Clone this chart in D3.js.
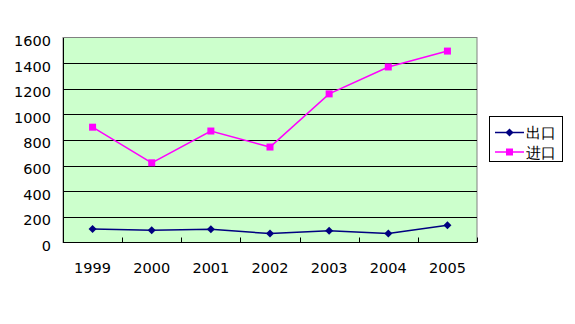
<!DOCTYPE html>
<html>
<head>
<meta charset="utf-8">
<script src="https://cdn.jsdelivr.net/npm/d3@7"></script>
<style>
  html, body { margin: 0; padding: 0; background: #fff; }
  svg { display: block; }
  text { font-family: "DejaVu Sans", Verdana, sans-serif; }
</style>
</head>
<body>
<svg id="chart" width="575" height="324"></svg>
<script>
// Trade figures by year
const years = ["1999", "2000", "2001", "2002", "2003", "2004", "2005"];
const exportsVals = [105, 95, 103, 70, 92, 70, 134];
const importsVals = [900, 622, 870, 745, 1160, 1370, 1494];
const yTicks = [0, 200, 400, 600, 800, 1000, 1200, 1400, 1600];
const seriesNames = ["出口", "进口"];

const svg = d3.select("#chart");
const plot = { left: 63, right: 477, top: 37.5, bottom: 242.5 };

const x = d3.scaleBand().domain(years).range([plot.left, plot.right]);
const y = d3.scaleLinear().domain([0, 1600]).range([plot.bottom, plot.top]);

// plot area background
svg.append("rect")
  .attr("x", plot.left).attr("y", plot.top)
  .attr("width", plot.right - plot.left).attr("height", plot.bottom - plot.top)
  .attr("fill", "#CCFFCC").attr("stroke", "#808080").attr("stroke-width", 1);

// horizontal gridlines
svg.append("g").selectAll("line")
  .data(yTicks.filter(d => d > 0 && d < 1600))
  .join("line")
  .attr("x1", plot.left).attr("x2", plot.right)
  .attr("y1", d => Math.round(y(d)) + 0.5).attr("y2", d => Math.round(y(d)) + 0.5)
  .attr("stroke", "#000").attr("stroke-width", 1);

// y axis labels
const yAxis = d3.axisLeft(y).tickValues(yTicks).tickFormat(d3.format("d"))
  .tickSize(0).tickPadding(12);
const gy = svg.append("g").attr("transform", `translate(${plot.left},0)`).call(yAxis);
gy.select(".domain").attr("stroke", "#000");
gy.selectAll("text").attr("font-size", 14.5).attr("fill", "#000").attr("dy", "0.55em")
  .attr("font-family", "'DejaVu Sans', Verdana, sans-serif");

// x axis with tick marks at category boundaries
svg.append("line")
  .attr("x1", plot.left).attr("x2", plot.right)
  .attr("y1", plot.bottom).attr("y2", plot.bottom)
  .attr("stroke", "#000");
const bounds = years.map(d => x(d)).concat([plot.right]);
svg.append("g").selectAll("line")
  .data(bounds)
  .join("line")
  .attr("x1", d => Math.round(d) + 0.5).attr("x2", d => Math.round(d) + 0.5)
  .attr("y1", plot.bottom - 5).attr("y2", plot.bottom)
  .attr("stroke", "#000");

const xAxis = d3.axisBottom(x).tickSize(0).tickPadding(20);
const gx = svg.append("g").attr("transform", `translate(0,${plot.bottom})`).call(xAxis);
gx.select(".domain").remove();
gx.selectAll("text").attr("font-size", 14.5).attr("fill", "#000")
  .attr("font-family", "'DejaVu Sans', Verdana, sans-serif");

const cx = d => x(d) + x.bandwidth() / 2;
const line = d3.line().x(d => cx(d.year)).y(d => y(d.v));

// diamond drawn as a square turned 45 degrees
const diamond = { draw(ctx, size) { const r = Math.sqrt(size / 2);
  ctx.moveTo(0, -r); ctx.lineTo(r, 0); ctx.lineTo(0, r); ctx.lineTo(-r, 0); ctx.closePath(); } };

const series = [
  { name: seriesNames[0], vals: exportsVals, color: "#000080", shape: diamond, size: 32 },
  { name: seriesNames[1], vals: importsVals, color: "#FF00FF", shape: d3.symbolSquare, size: 49 }
];

series.forEach(s => {
  const pts = years.map((yr, i) => ({ year: yr, v: s.vals[i] }));
  svg.append("path").datum(pts)
    .attr("d", line).attr("fill", "none")
    .attr("stroke", s.color).attr("stroke-width", 1.5);
  svg.append("g").selectAll("path")
    .data(pts).join("path")
    .attr("d", d3.symbol().type(s.shape).size(s.size))
    .attr("transform", d => `translate(${cx(d.year)},${y(d.v)})`)
    .attr("fill", s.color);
});

// legend
const lg = svg.append("g");
lg.append("rect")
  .attr("x", 489.5).attr("y", 116.5).attr("width", 73).attr("height", 45)
  .attr("fill", "#fff").attr("stroke", "#000");
series.forEach((s, i) => {
  const ly = 132.5 + i * 19.5;
  lg.append("line").attr("x1", 495).attr("x2", 524).attr("y1", ly).attr("y2", ly)
    .attr("stroke", s.color).attr("stroke-width", 1.5);
  lg.append("path").attr("d", d3.symbol().type(s.shape).size(s.size))
    .attr("transform", `translate(509.5,${ly})`).attr("fill", s.color);
  lg.append("text").attr("x", 526).attr("y", ly + 5.5)
    .attr("font-size", 15).attr("fill", "#000")
    .attr("font-family", "'Noto Sans CJK SC', sans-serif")
    .text(s.name);
});
</script>
</body>
</html>
